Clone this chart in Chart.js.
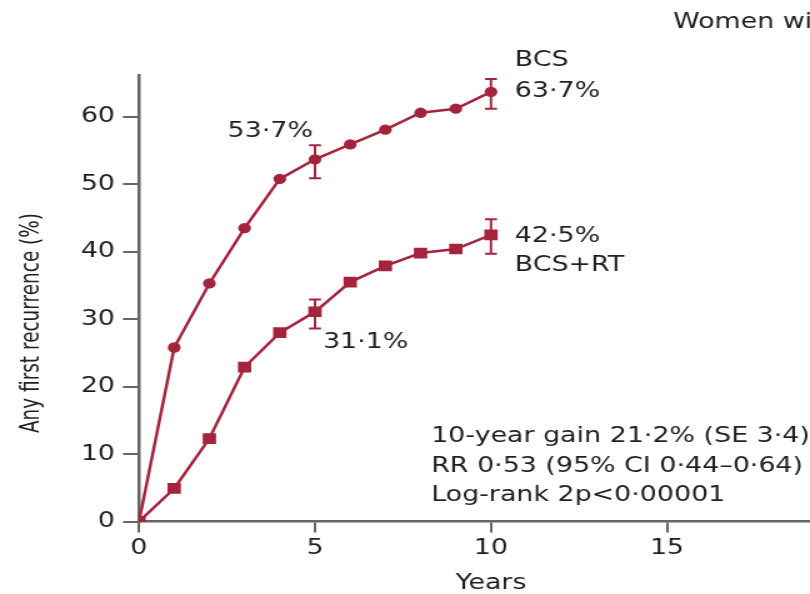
<!DOCTYPE html>
<html>
<head>
<meta charset="utf-8">
<script src="https://cdn.jsdelivr.net/npm/chart.js@4.4.1/dist/chart.umd.min.js"></script>
<style>
  html, body { margin: 0; padding: 0; overflow: hidden; background: #fff; width: 810px; height: 594px; }
  /* the source figure is stretched sideways, so the canvas is too */
  .chart-container { position: absolute; left: 0; top: 0; width: 700px; height: 594px; transform: scaleX(1.25); transform-origin: 0 0; }
</style>
</head>
<body>
<div class="chart-container"><canvas id="myChart"></canvas></div>
<script>
const years = [0, 1, 2, 3, 4, 5, 6, 7, 8, 9, 10];
const bcs = [0, 25.8, 35.3, 43.5, 50.8, 53.7, 55.9, 58.1, 60.6, 61.2, 63.7];
const bcsRt = [0, 4.9, 12.3, 22.9, 28.0, 31.1, 35.5, 37.9, 39.8, 40.4, 42.5];

const errYears = [5, 10];
const bcsLow = [50.9, 61.2];
const bcsHigh = [55.8, 65.6];
const rtLow = [28.6, 39.7];
const rtHigh = [32.9, 44.8];

const xTicks = [0, 5, 10, 15, 20];
const yTicks = [0, 10, 20, 30, 40, 50, 60];

const red = '#a5243d';
const ink = '#1f1f1f';
const axisGrey = '#666666';
const font = '"DejaVu Sans", sans-serif';
const fontSize = 21.5;

const toPoints = (xs, ys) => xs.map((x, i) => ({x: x, y: ys[i]}));

const errorBars = {
  id: 'errorBars',
  afterDatasetsDraw(chart) {
    const ctx = chart.ctx;
    const xs = chart.scales.x;
    const ys = chart.scales.y;
    const draw = (lows, highs) => {
      errYears.forEach((yr, i) => {
        const px = xs.getPixelForValue(yr);
        const top = ys.getPixelForValue(highs[i]);
        const bot = ys.getPixelForValue(lows[i]);
        ctx.beginPath();
        ctx.moveTo(px, top); ctx.lineTo(px, bot);
        ctx.moveTo(px - 4.8, top); ctx.lineTo(px + 4.8, top);
        ctx.moveTo(px - 4.8, bot); ctx.lineTo(px + 4.8, bot);
        ctx.stroke();
      });
    };
    ctx.save();
    ctx.strokeStyle = red;
    ctx.lineWidth = 2;
    draw(bcsLow, bcsHigh);
    draw(rtLow, rtHigh);
    ctx.restore();
  }
};

const labels = {
  id: 'labels',
  afterDraw(chart) {
    const ctx = chart.ctx;
    const xs = chart.scales.x;
    const ys = chart.scales.y;
    const px = v => xs.getPixelForValue(v);
    const py = v => ys.getPixelForValue(v);
    ctx.save();
    ctx.fillStyle = ink;
    ctx.font = fontSize + 'px ' + font;
    ctx.textBaseline = 'middle';
    ctx.textAlign = 'left';

    ctx.fillText('BCS', px(10) + 19, py(bcs[10]) - 31);
    ctx.fillText('63·7%', px(10) + 19, py(bcs[10]));
    ctx.fillText('42·5%', px(10) + 19, py(bcsRt[10]) + 2);
    ctx.fillText('BCS+RT', px(10) + 19, py(bcsRt[10]) + 31);
    ctx.fillText('31·1%', px(5) + 6.4, py(bcsRt[5]) + 31);
    ctx.textAlign = 'right';
    ctx.fillText('53·7%', px(5) - 1.6, py(bcs[5]) - 28);

    ctx.textAlign = 'left';
    ctx.fillText('10-year gain 21·2% (SE 3·4)', px(8.3), py(12.54));
    ctx.fillText('RR 0·53 (95% CI 0·44–0·64)', px(8.3), py(8.23));
    ctx.fillText('Log-rank 2p<0·00001', px(8.3), py(3.93));

    ctx.fillText('Women with pN+ disease', 538.4, 22);

    // y title, squeezed to the length of the original
    ctx.translate(25.6, 323);
    ctx.rotate(-Math.PI / 2);
    const t = 'Any first recurrence (%)';
    const w = ctx.measureText(t).width;
    ctx.scale(220 / w, 1);
    ctx.textAlign = 'center';
    ctx.fillText(t, 0, 0);
    ctx.restore();
  }
};

const ctx = document.getElementById('myChart').getContext('2d');
const myChart = new Chart(ctx, {
  type: 'line',
  data: {
    datasets: [{
      label: 'BCS',
      data: toPoints(years, bcs),
      borderColor: red,
      backgroundColor: red,
      borderWidth: 2.5,
      pointStyle: 'circle',
      pointRadius: 3.9,
      tension: 0,
    }, {
      label: 'BCS+RT',
      data: toPoints(years, bcsRt),
      borderColor: red,
      backgroundColor: red,
      borderWidth: 2.5,
      pointStyle: 'rect',
      pointRadius: 5.8,
      tension: 0,
    }],
  },
  options: {
    responsive: true,
    maintainAspectRatio: false,
    animation: false,
    layout: { padding: { top: 75, right: 25.6, left: 0, bottom: 0 } },
    plugins: { legend: { display: false }, tooltip: { enabled: false } },
    scales: {
      x: {
        type: 'linear',
        min: 0,
        max: 20,
        afterBuildTicks: axis => { axis.ticks = xTicks.map(v => ({value: v})); },
        afterFit: scale => { scale.height = 72.5; },
        ticks: { color: ink, font: { family: font, size: fontSize }, padding: 3, maxRotation: 0 },
        grid: { drawOnChartArea: false, drawTicks: true, tickLength: 11, color: axisGrey, lineWidth: 2 },
        border: { display: true, color: axisGrey, width: 2.5 },
        title: { display: true, text: 'Years', color: ink, font: { family: font, size: fontSize, lineHeight: 1 }, padding: { top: 0, bottom: 0 } },
      },
      y: {
        min: 0,
        max: 66.2,
        afterBuildTicks: axis => { axis.ticks = yTicks.map(v => ({value: v})); },
        afterFit: scale => { scale.width = 111.2; },
        ticks: { color: ink, font: { family: font, size: fontSize }, padding: 6.4 },
        grid: { drawOnChartArea: false, drawTicks: true, tickLength: 12.8, color: axisGrey, lineWidth: 2 },
        border: { display: true, color: axisGrey, width: 2.5 },
      },
    },
  },
  plugins: [errorBars, labels],
});
</script>
</body>
</html>
